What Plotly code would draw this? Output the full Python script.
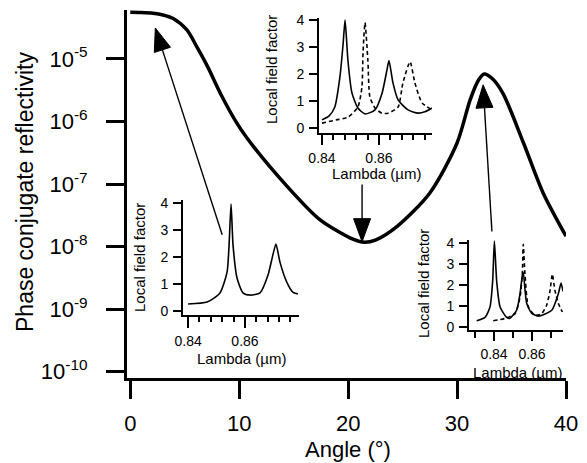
import plotly.graph_objects as go
import math

# page body has an 8px margin; the figure is sized/shifted to compensate
OFF = 8
W, H = 587 - OFF, 463 - OFF
FONT = "Liberation Sans, Arial, Helvetica, sans-serif"

# ---------------- data ----------------
angle = [0, 1, 2.1, 3.0, 3.9, 5.2, 6.1, 7.1, 8.3, 9.8, 11.3, 14.4, 17.4, 20.5, 21.5, 22.5,
         24.5, 27.5, 30.0, 31.2, 32.0, 32.5, 33.2, 34.2, 36.1, 37.9, 40.0]
reflectivity = [5.56e-5, 5.52e-5, 5.36e-5, 5.04e-5, 4.46e-5, 2.90e-5, 1.57e-5, 7.53e-6,
                2.75e-6, 9.33e-7, 3.99e-7, 9.18e-8, 2.70e-8, 1.30e-8, 1.17e-8, 1.27e-8,
                2.11e-8, 7.21e-8, 4.53e-7, 2.22e-6, 4.68e-6, 5.75e-6, 4.90e-6, 2.84e-6,
                4.53e-7, 7.21e-8, 1.47e-8]

# inset at minimum (top)
top_solid_lam = [0.8400, 0.8425, 0.8445, 0.8463, 0.8474, 0.8481, 0.8491, 0.8505, 0.8526,
                 0.8551, 0.8586, 0.8611, 0.8628, 0.8635, 0.8649, 0.8667, 0.8702, 0.8737,
                 0.8761, 0.8786]
top_solid_val = [0.30, 0.45, 0.78, 1.9, 3.1, 4.0, 2.5, 1.3, 0.74,
                 0.52, 0.67, 1.3, 2.15, 2.5, 1.67, 1.04, 0.67, 0.55,
                 0.60, 0.74]
top_dash_lam = [0.8400, 0.8450, 0.8491, 0.8526, 0.8540, 0.8544, 0.8551, 0.8561, 0.8568,
                0.8586, 0.8610, 0.8632, 0.8667, 0.8684, 0.8709, 0.8726, 0.8751, 0.8786]
top_dash_val = [0.18, 0.30, 0.40, 0.78, 1.5, 2.8, 3.9, 2.5, 1.15,
                0.74, 0.55, 0.55, 0.78, 1.67, 2.45, 1.67, 0.93, 0.67]

# inset at small angle (bottom left)
bl_lam = [0.8400, 0.8467, 0.8512, 0.8537, 0.8544, 0.8551, 0.8558, 0.8572, 0.8593,
          0.8618, 0.8653, 0.8681, 0.8698, 0.8709, 0.8723, 0.8747, 0.8768, 0.8786]
bl_val = [0.26, 0.33, 0.67, 1.44, 2.44, 3.96, 2.44, 1.22, 0.67,
          0.59, 0.67, 1.33, 2.07, 2.48, 1.81, 1.07, 0.70, 0.63]

# inset at peak (bottom right)
br_solid_lam = [0.8309, 0.8353, 0.8379, 0.8393, 0.8402, 0.8414, 0.8432, 0.8467, 0.8484,
                0.8519, 0.8537, 0.8549, 0.8554, 0.8572, 0.8598, 0.8633, 0.8704, 0.8739,
                0.8753, 0.8763]
br_solid_val = [0.30, 0.46, 0.96, 2.2, 4.1, 2.2, 0.96, 0.46, 0.42,
                0.80, 1.6, 2.45, 2.6, 1.13, 0.66, 0.52, 0.80, 1.6,
                2.1, 1.7]
br_dash_lam = [0.8396, 0.8458, 0.8511, 0.8537, 0.8549, 0.8554, 0.8563, 0.8581, 0.8616,
               0.8651, 0.8677, 0.8695, 0.8707, 0.8721, 0.8739, 0.8760]
br_dash_val = [0.30, 0.41, 0.64, 1.43, 2.52, 3.94, 2.52, 0.96, 0.56,
               0.64, 1.04, 1.74, 2.52, 1.74, 1.12, 0.72]

y_tickvals = [1e-10, 1e-9, 1e-8, 1e-7, 1e-6, 1e-5]
y_ticktext = ["10<sup>-10</sup>", "10<sup>-9</sup>", "10<sup>-8</sup>",
              "10<sup>-7</sup>", "10<sup>-6</sup>", "10<sup>-5</sup>"]
x_tickvals = [0, 10, 20, 30, 40]

# arrows: (tail angle, tail refl) -> (tip angle, tip refl)
arrows = [((8.44, 1.55e-8), (2.3, 3.12e-5)),
          ((21.28, 9.8e-8), (21.28, 1.2e-8)),
          ((33.2, 1.74e-8), (32.39, 3.85e-6))]

# ---------------- layout geometry (reference pixel positions) ----------------
X_RANGE = [-0.3, 40]
Y_RANGE = [-10.1, -4.2185]
MX = (127, 566)
MY = (378, 10)


def dom_x(a, b):
    return [(a - OFF) / W, (b - OFF) / W]


def dom_y(top, bottom):
    return [1 - (bottom - OFF) / H, 1 - (top - OFF) / H]


def to_paper(px, py):
    return (px - OFF) / W, 1 - (py - OFF) / H


def main_px(a, r):
    px = MX[0] + (a - X_RANGE[0]) / (X_RANGE[1] - X_RANGE[0]) * (MX[1] - MX[0])
    lv = math.log10(r)
    py = MY[0] - (lv - Y_RANGE[0]) / (Y_RANGE[1] - Y_RANGE[0]) * (MY[0] - MY[1])
    return px, py


fig = go.Figure()

fig.add_trace(go.Scatter(x=angle, y=reflectivity, mode="lines",
                         line=dict(color="black", width=3.5, shape="spline", smoothing=0.8),
                         xaxis="x", yaxis="y", hoverinfo="skip"))

inset_line = dict(color="black", width=1.6, shape="spline", smoothing=0.6)
dash_line = dict(color="black", width=1.6, shape="spline", smoothing=0.6, dash="4px,3px")

fig.add_trace(go.Scatter(x=bl_lam, y=bl_val, mode="lines", line=inset_line,
                         xaxis="x2", yaxis="y2"))
fig.add_trace(go.Scatter(x=top_dash_lam, y=top_dash_val, mode="lines", line=dash_line,
                         xaxis="x3", yaxis="y3"))
fig.add_trace(go.Scatter(x=top_solid_lam, y=top_solid_val, mode="lines", line=inset_line,
                         xaxis="x3", yaxis="y3"))
fig.add_trace(go.Scatter(x=br_dash_lam, y=br_dash_val, mode="lines", line=dash_line,
                         xaxis="x4", yaxis="y4"))
fig.add_trace(go.Scatter(x=br_solid_lam, y=br_solid_val, mode="lines", line=inset_line,
                         xaxis="x4", yaxis="y4"))

main_common = dict(showline=True, linewidth=3, linecolor="black", ticks="outside",
                   tickwidth=3, tickcolor="black", ticklen=18, showgrid=False,
                   zeroline=False, automargin=False,
                   tickfont=dict(family=FONT, size=22, color="black"))

inset_y = dict(showline=True, linewidth=2, linecolor="black", ticks="outside",
               tickwidth=2, ticklen=8, tickcolor="black", showgrid=False, zeroline=False,
               automargin=False,
               tickvals=[0, 1, 2, 3, 4], tickfont=dict(family=FONT, size=14, color="black"),
               ticklabelstandoff=2)
inset_x = dict(showline=True, linewidth=2, linecolor="black", ticks="outside",
               tickwidth=2, tickcolor="black", showgrid=False, zeroline=False,
               automargin=False,
               tickvals=[0.84, 0.86], ticktext=["0.84", "0.86"],
               tickfont=dict(family=FONT, size=14, color="black"), ticklabelstandoff=1)

minor_fine = dict(tickvals=[0.844, 0.848, 0.852, 0.856, 0.864, 0.868, 0.872, 0.876],
                  ticklen=5, tickwidth=2, tickcolor="black", ticks="outside")

fig.update_layout(
    template="none",
    width=W, height=H, margin=dict(l=0, r=0, t=0, b=0, pad=0), autosize=False,
    paper_bgcolor="white", plot_bgcolor="rgba(0,0,0,0)", showlegend=False,
    xaxis=dict(domain=dom_x(*MX), range=X_RANGE, tickvals=x_tickvals,
               anchor="y", ticklabelstandoff=6, **main_common),
    yaxis=dict(domain=dom_y(MY[1], MY[0]), type="log", range=Y_RANGE,
               tickvals=y_tickvals, ticktext=y_ticktext, anchor="x",
               ticklabelstandoff=14, **main_common),
    xaxis2=dict(domain=dom_x(183, 299), range=[0.8382, 0.879], anchor="y2",
                ticklen=11, minor=minor_fine, **inset_x),
    yaxis2=dict(domain=dom_y(200, 315), range=[-0.148, 4.11], anchor="x2", **inset_y),
    xaxis3=dict(domain=dom_x(319, 432), range=[0.83895, 0.8786], anchor="y3",
                ticklen=10, minor=minor_fine, **inset_x),
    yaxis3=dict(domain=dom_y(18, 133), range=[-0.185, 4.074], anchor="x3", **inset_y),
    xaxis4=dict(domain=dom_x(469, 563), range=[0.82684, 0.87632], anchor="y4",
                ticklen=9,
                minor=dict(tickvals=[0.83, 0.85, 0.87],
                           ticklen=6, tickwidth=2, tickcolor="black", ticks="outside"),
                **inset_x),
    yaxis4=dict(domain=dom_y(240, 330), range=[-0.141, 4.15], anchor="x4", **inset_y),
)


# titles as annotations
def ann(text, px, py, size, angle=0):
    x, y = to_paper(px, py)
    fig.add_annotation(text=text, x=x, y=y, xref="paper", yref="paper",
                       showarrow=False, textangle=angle, xanchor="center", yanchor="middle",
                       font=dict(family=FONT, size=size, color="black"), borderpad=0)


ann("Phase conjugate reflectivity", 25, 192, 23, -90)
ann("Angle (°)", 348, 449, 22)
ann("Local field factor", 139, 258, 15, -90)
ann("Lambda (µm)", 242, 358, 15)
ann("Local field factor", 272, 70, 15, -90)
ann("Lambda (µm)", 377, 173, 15)
ann("Local field factor", 423, 284, 15, -90)
ann("Lambda (µm)", 518, 372, 15)

# arrows: thin shaft + filled triangular head
HEAD_L, HEAD_W = 23, 8.5
for (ta, tr), (ha, hr) in arrows:
    x0, y0 = main_px(ta, tr)
    x1, y1 = main_px(ha, hr)
    dx, dy = x1 - x0, y1 - y0
    L = math.hypot(dx, dy)
    ux, uy = dx / L, dy / L
    nx, ny = -uy, ux
    bx, by = x1 - HEAD_L * ux, y1 - HEAD_L * uy
    p0 = to_paper(x0, y0)
    pb = to_paper(bx, by)
    fig.add_shape(type="line", xref="paper", yref="paper",
                  x0=p0[0], y0=p0[1], x1=pb[0], y1=pb[1],
                  line=dict(color="black", width=1.4))
    pts = [to_paper(x1, y1), to_paper(bx + HEAD_W * nx, by + HEAD_W * ny),
           to_paper(bx - HEAD_W * nx, by - HEAD_W * ny)]
    path = "M " + " L ".join(f"{p[0]:.5f},{p[1]:.5f}" for p in pts) + " Z"
    fig.add_shape(type="path", xref="paper", yref="paper", path=path,
                  fillcolor="black", line=dict(color="black", width=1))

fig.write_html("out.html")
